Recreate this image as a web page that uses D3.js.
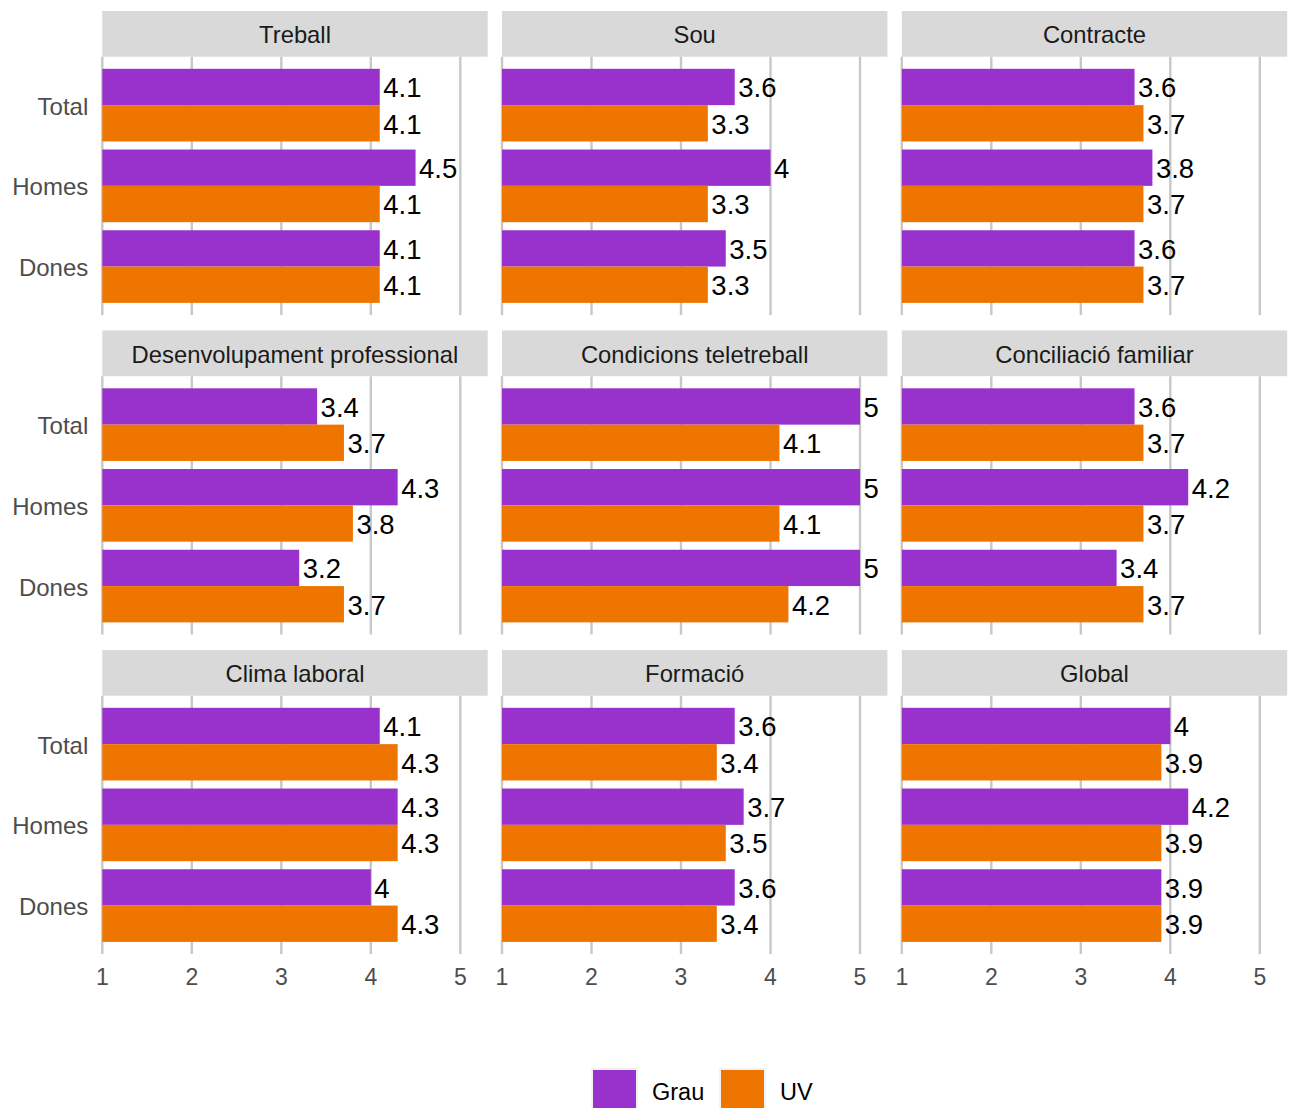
<!DOCTYPE html>
<html>
<head>
<meta charset="utf-8">
<script src="https://cdn.jsdelivr.net/npm/d3@7"></script>
<style>
  body { margin: 0; background: #fff; }
  svg { display: block; font-family: "Liberation Sans", Arial, sans-serif; }
</style>
</head>
<body>
<svg id="chart" width="1289" height="1108"></svg>
<script>
// ---- Data ----
const facets = ["Treball", "Sou", "Contracte", "Desenvolupament professional", "Condicions teletreball",
                "Conciliació familiar", "Clima laboral", "Formació", "Global"];
const groups = ["Total", "Homes", "Dones"];
const series = ["Grau", "UV"];
const seriesColors = ["#9932CC", "#EE7600"];
// values per facet, in order Total, Homes, Dones
const grauValues = [
  [4.1, 4.5, 4.1],
  [3.6, 4, 3.5],
  [3.6, 3.8, 3.6],
  [3.4, 4.3, 3.2],
  [5, 5, 5],
  [3.6, 4.2, 3.4],
  [4.1, 4.3, 4],
  [3.6, 3.7, 3.6],
  [4, 4.2, 3.9]
];
const uvValues = [
  [4.1, 4.1, 4.1],
  [3.3, 3.3, 3.3],
  [3.7, 3.7, 3.7],
  [3.7, 3.8, 3.7],
  [4.1, 4.1, 4.2],
  [3.7, 3.7, 3.7],
  [4.3, 4.3, 4.3],
  [3.4, 3.5, 3.4],
  [3.9, 3.9, 3.9]
];
const xTicks = [1, 2, 3, 4, 5];

// ---- Layout ----
const svg = d3.select("#chart");
const panelW = 385.4, panelH = 258.3, stripH = 45.7;
const colX = [102.3, 502.0, 901.8];
const rowY = [11, 330.5, 650];

const x = d3.scaleLinear().domain([1, 5.306]).range([0, panelW]);
const y = d3.scaleBand().domain(groups).range([0, panelH]).paddingInner(0).paddingOuter(0.1);
const step = y.step();

facets.forEach((f, fi) => {
  const col = fi % 3, row = Math.floor(fi / 3);
  const g = svg.append("g").attr("transform", `translate(${colX[col]},${rowY[row]})`);

  // strip
  g.append("rect").attr("x", 0).attr("y", 0).attr("width", panelW).attr("height", stripH).attr("fill", "#D9D9D9");
  g.append("text").attr("x", panelW / 2).attr("y", stripH / 2 + 1).attr("text-anchor", "middle")
    .attr("dominant-baseline", "central").attr("font-size", 23.8).attr("fill", "#1A1A1A").text(f);

  const p = g.append("g").attr("transform", `translate(0,${stripH})`);

  // gridlines
  p.selectAll("line.grid").data(xTicks).enter().append("line")
    .attr("x1", d => x(d)).attr("x2", d => x(d)).attr("y1", 0).attr("y2", panelH)
    .attr("stroke", "#C8C8C8").attr("stroke-width", 2.4);

  const rows = [];
  groups.forEach((gr, gi) => {
    rows.push({ group: gr, s: 0, v: grauValues[fi][gi] });
    rows.push({ group: gr, s: 1, v: uvValues[fi][gi] });
  });
  const barH = step * 0.45;

  p.selectAll("rect.bar").data(rows).enter().append("rect")
    .attr("x", x(1))
    .attr("y", d => y(d.group) + step / 2 - barH + d.s * barH)
    .attr("width", d => x(d.v) - x(1))
    .attr("height", barH)
    .attr("fill", d => seriesColors[d.s]);

  p.selectAll("text.val").data(rows).enter().append("text")
    .attr("x", d => x(d.v) + 3.5)
    .attr("y", d => y(d.group) + step / 2 - barH / 2 + d.s * barH + 1)
    .attr("dominant-baseline", "central")
    .attr("font-size", 27.5).attr("fill", "#000")
    .text(d => d.v);

  // y axis labels (first column only)
  if (col === 0) {
    p.selectAll("text.ylab").data(groups).enter().append("text")
      .attr("x", -14).attr("y", d => y(d) + step / 2 + 1)
      .attr("text-anchor", "end").attr("dominant-baseline", "central")
      .attr("font-size", 24).attr("fill", "#4D4D4D").text(d => d);
  }
  // x axis labels (last row only)
  if (row === 2) {
    p.selectAll("text.xlab").data(xTicks).enter().append("text")
      .attr("x", d => x(d)).attr("y", panelH + 31)
      .attr("text-anchor", "middle")
      .attr("font-size", 23).attr("fill", "#4D4D4D").text(d => d);
  }
});

// ---- Legend ----
const legend = svg.append("g");
const legendItems = [
  { name: series[0], color: seriesColors[0], x: 593 },
  { name: series[1], color: seriesColors[1], x: 721 }
];
legendItems.forEach(it => {
  legend.append("rect").attr("x", it.x - 2).attr("y", 1068).attr("width", 47).attr("height", 47).attr("fill", "#F2F2F2");
  legend.append("rect").attr("x", it.x).attr("y", 1070).attr("width", 43).attr("height", 43).attr("fill", it.color);
  legend.append("text").attr("x", it.x + 59).attr("y", 1092).attr("dominant-baseline", "central")
    .attr("font-size", 23.5).attr("fill", "#000").text(it.name);
});
</script>
</body>
</html>
